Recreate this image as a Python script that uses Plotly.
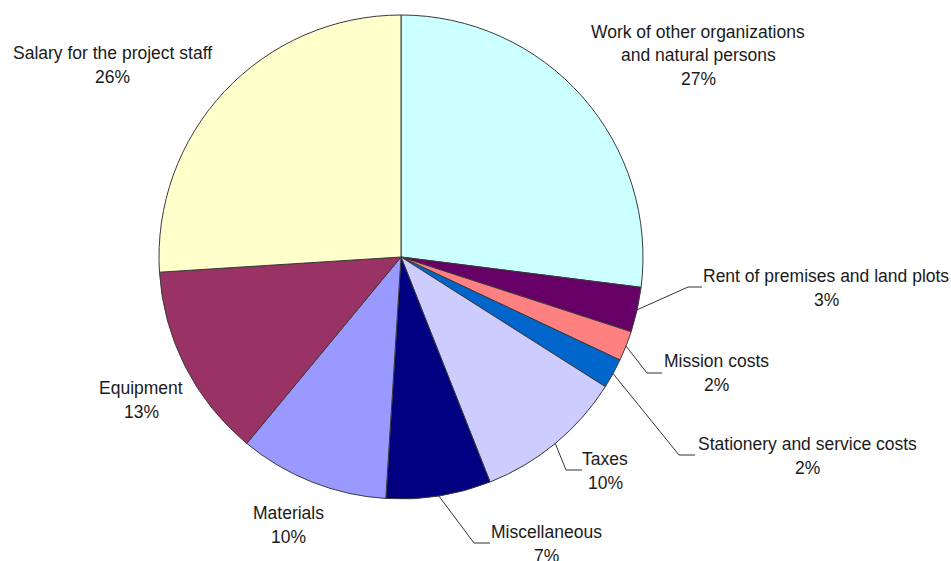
import math
import plotly.graph_objects as go

# Project budget structure, clockwise from 12 o'clock
categories = [
    "Work of other organizations<br>and natural persons",
    "Rent of premises and land plots",
    "Mission costs",
    "Stationery and service costs",
    "Taxes",
    "Miscellaneous",
    "Materials",
    "Equipment",
    "Salary for the project staff",
]
shares = [27, 3, 2, 2, 10, 7, 10, 13, 26]
colors = ["#CCFFFF", "#660066", "#FF8080", "#0066CC", "#CCCCFF",
          "#000080", "#9999FF", "#993366", "#FFFFCC"]

W, H = 951, 561
CX, CY, R = 401, 257, 242

# label block: centre x, centre y of first text line (pixels)
label_pos = [(698, 32), (826, 276), (716, 361), (807, 444), (605, 459),
             (546, 532), (288, 513), (141, 388), (112, 53)]
# leader line elbow x, elbow/end y, end x (None = no leader)
leaders = [None, (688, 287, 702), (647, 373, 662), (679, 455, 695),
           (566, 470, 582), (474, 543, 490), None, None, None]

LINE_H = 23.5


def px(x):
    return x / W


def py(y):
    return 1 - y / H


fig = go.Figure(go.Pie(
    values=shares,
    labels=[c.replace("<br>", " ") for c in categories],
    sort=False,
    direction="clockwise",
    rotation=0,
    marker=dict(colors=colors, line=dict(color="#3a3a3a", width=1)),
    textinfo="none",
    hoverinfo="label+percent",
    showlegend=False,
    domain=dict(x=[px(CX - R), px(CX + R)], y=[py(CY + R), py(CY - R)]),
))

total = sum(shares)
annotations = []
shapes = []
cum = 0
for name, val, (lx, ly), lead in zip(categories, shares, label_pos, leaders):
    lines = name.split("<br>") + [f"{round(100 * val / total)}%"]
    for i, t in enumerate(lines):
        annotations.append(dict(
            x=px(lx), y=py(ly + i * LINE_H), xref="paper", yref="paper",
            text=t, showarrow=False, xanchor="center", yanchor="middle",
            font=dict(family="Liberation Sans, Arial, sans-serif", size=17.5,
                      color="#1a1a1a"),
        ))
    mid = 2 * math.pi * (cum + val / 2) / total
    cum += val
    if lead:
        ex, ey, endx = lead
        sx = CX + R * math.sin(mid)
        sy = CY - R * math.cos(mid)
        path = (f"M {px(sx)} {py(sy)} L {px(ex)} {py(ey)} "
                f"L {px(endx)} {py(ey)}")
        shapes.append(dict(type="path", xref="paper", yref="paper",
                           path=path, line=dict(color="#333333", width=1)))

fig.update_layout(
    width=W, height=H,
    margin=dict(l=0, r=0, t=0, b=0),
    paper_bgcolor="white", plot_bgcolor="white",
    annotations=annotations, shapes=shapes,
)

fig.write_html("out.html")
